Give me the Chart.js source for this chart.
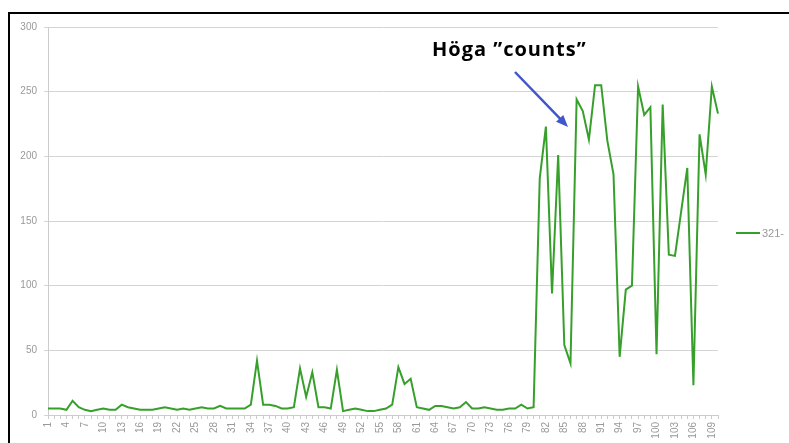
<!DOCTYPE html>
<html>
<head>
<meta charset="utf-8">
<script src="https://cdn.jsdelivr.net/npm/chart.js@4"></script>
<style>
  html, body { margin: 0; padding: 0; background: #fff; overflow: hidden; }
  #wrap { position: relative; width: 789px; height: 443px; }
  #frame { position: absolute; left: 8px; top: 12px; width: 900px; height: 600px;
    border-left: 2px solid #000; border-top: 2px solid #000; box-sizing: border-box; pointer-events: none; }
  #note { position: absolute; left: 432px; top: 35px; font: bold 20px "Open Sans", "Liberation Sans", sans-serif;
    letter-spacing: 1px; color: #000; white-space: nowrap; }
  #legend { position: absolute; left: 736px; top: 227px; font: 11px "Liberation Sans", sans-serif; color: #999;
    white-space: nowrap; display: flex; align-items: center; }
  #legend i { display: inline-block; width: 24px; height: 2px; background: #36a02a; margin-right: 2px; }
</style>
</head>
<body>
<div id="wrap">
  <canvas id="chart" width="789" height="443"></canvas>
  <div id="frame"></div>
  <div id="note">Höga ”counts”</div>
  <div id="legend"><i></i><span id="legendText"></span></div>
</div>
<script>
const categories = [];
for (let i = 1; i <= 110; i++) categories.push(String(i));

const seriesName = '321-';
const counts = [
  5, 5, 5, 4, 11, 6, 4, 3, 4, 5,
  4, 4, 8, 6, 5, 4, 4, 4, 5, 6,
  5, 4, 5, 4, 5, 6, 5, 5, 7, 5,
  5, 5, 5, 8, 42, 8, 8, 7, 5, 5,
  6, 36, 14, 33, 6, 6, 5, 35, 3, 4,
  5, 4, 3, 3, 4, 5, 8, 37, 24, 28,
  6, 5, 4, 7, 7, 6, 5, 6, 10, 5,
  5, 6, 5, 4, 4, 5, 5, 8, 5, 6,
  183, 223, 94, 201, 54, 40, 244, 235, 213, 255,
  255, 212, 186, 45, 97, 100, 254, 232, 238, 47,
  240, 124, 123, 157, 191, 23, 217, 186, 254, 233
];
const yTicks = [0, 50, 100, 150, 200, 250, 300];

document.getElementById('legendText').textContent = seriesName;

const arrowPlugin = {
  id: 'arrow',
  afterDraw(chart) {
    const ctx = chart.ctx;
    const x1 = 515, y1 = 72, x2 = 568, y2 = 127;
    const ang = Math.atan2(y2 - y1, x2 - x1);
    ctx.save();
    ctx.strokeStyle = '#4156c8';
    ctx.fillStyle = '#4156c8';
    ctx.lineWidth = 2.5;
    ctx.beginPath();
    ctx.moveTo(x1, y1);
    ctx.lineTo(x2 - 8 * Math.cos(ang), y2 - 8 * Math.sin(ang));
    ctx.stroke();
    ctx.beginPath();
    ctx.moveTo(x2, y2);
    ctx.lineTo(x2 - 12 * Math.cos(ang) + 5 * Math.sin(ang), y2 - 12 * Math.sin(ang) - 5 * Math.cos(ang));
    ctx.lineTo(x2 - 12 * Math.cos(ang) - 5 * Math.sin(ang), y2 - 12 * Math.sin(ang) + 5 * Math.cos(ang));
    ctx.closePath();
    ctx.fill();
    ctx.restore();
  }
};

new Chart(document.getElementById('chart'), {
  type: 'line',
  data: {
    labels: categories,
    datasets: [{
      label: seriesName,
      data: counts,
      borderColor: '#36a02a',
      borderWidth: 2,
      tension: 0,
      pointRadius: 0,
      fill: false
    }]
  },
  options: {
    responsive: false,
    animation: false,
    layout: { padding: { top: 27, left: 12, right: 71, bottom: 0 } },
    plugins: {
      legend: { display: false },
      tooltip: { enabled: false }
    },
    scales: {
      x: {
        offset: false,
        afterFit: (axis) => { axis.height = 28; },
        grid: { drawOnChartArea: false, drawTicks: true, tickLength: 4, color: '#ccc' },
        border: { color: '#ccc' },
        ticks: {
          autoSkip: false,
          maxRotation: 90,
          minRotation: 90,
          color: '#999',
          font: { family: 'Liberation Sans', size: 10 },
          padding: 3,
          callback: (v, i) => (i % 3 === 0 ? categories[i] : '')
        }
      },
      y: {
        min: 0,
        max: 300,
        afterBuildTicks: (axis) => { axis.ticks = yTicks.map((v) => ({ value: v })); },
        afterFit: (axis) => { axis.width = 36; },
        grid: { color: '#d4d4d4', tickLength: 4 },
        border: { color: '#ccc' },
        ticks: {
          color: '#999',
          font: { family: 'Liberation Sans', size: 10 },
          padding: 7
        }
      }
    }
  },
  plugins: [arrowPlugin]
});
</script>
</body>
</html>
